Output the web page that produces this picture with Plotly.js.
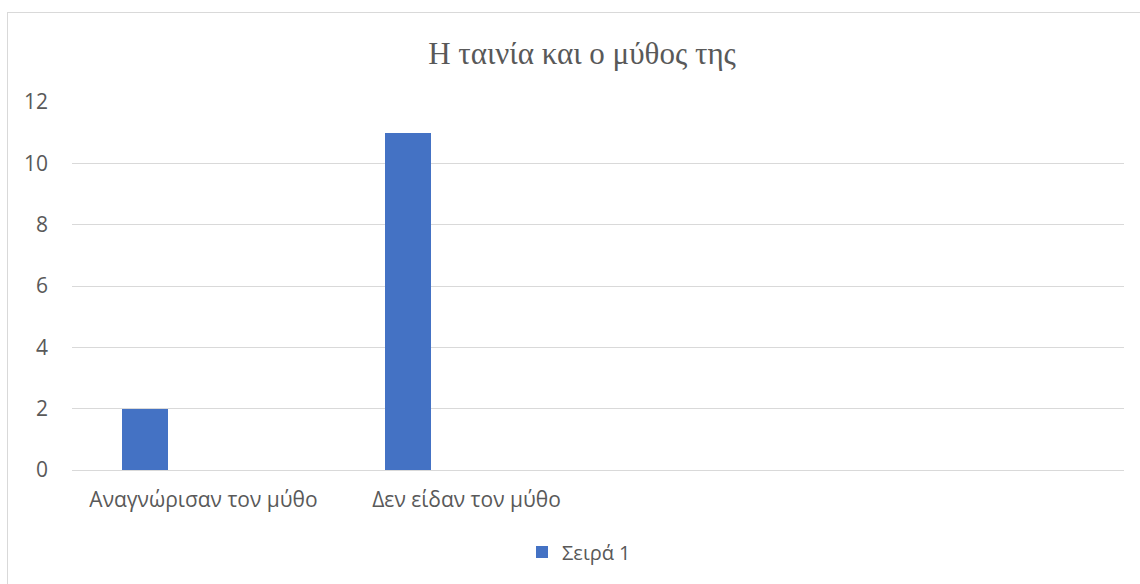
<!DOCTYPE html>
<html>
<head>
<meta charset="utf-8">
<script src="https://cdn.plot.ly/plotly-3.0.1.min.js"></script>
<style>
  html, body { margin: 0; padding: 0; background: #ffffff; overflow: hidden; }
  #frame { position: absolute; left: 7px; top: 12px; width: 1300px; height: 800px; border: 1px solid #d9d9d9; box-sizing: border-box; }
  #chart { position: absolute; left: 0; top: 0; width: 1140px; height: 584px; }
</style>
</head>
<body>
<div id="frame"></div>
<div id="chart"></div>
<script>
const categories = ["Αναγνώρισαν τον μύθο", "Δεν είδαν τον μύθο"];
const series1Values = [2, 11];
const seriesName = "Σειρά 1";
const chartTitle = "Η ταινία και ο μύθος της";
const yTickVals = [0, 2, 4, 6, 8, 10, 12];

const trace = {
  type: "bar",
  x: categories,
  y: series1Values,
  name: seriesName,
  marker: { color: "#4472c4" },
  offset: -0.31,
  width: 0.175,
  showlegend: true,
  hoverinfo: "x+y"
};

const layout = {
  width: 1140,
  height: 584,
  margin: { l: 72, r: 16, t: 102, b: 114 },
  paper_bgcolor: "rgba(0,0,0,0)",
  plot_bgcolor: "rgba(0,0,0,0)",
  font: { family: "'Open Sans', 'Liberation Sans', sans-serif", size: 20, color: "#595959" },
  title: {
    text: chartTitle,
    font: { family: "'Liberation Serif', 'DejaVu Serif', serif", size: 31, color: "#595959" },
    x: 582 / 1140, xanchor: "center", xref: "container",
    y: 1 - 53 / 584, yanchor: "middle", yref: "container"
  },
  xaxis: {
    type: "category",
    categoryorder: "array",
    categoryarray: categories,
    range: [-0.5, 3.5],
    showgrid: false,
    showline: false,
    zeroline: false,
    ticks: "",
    ticklabelstandoff: 15,
    tickfont: { size: 21, color: "#595959" }
  },
  yaxis: {
    range: [0, 12],
    tickvals: yTickVals,
    showgrid: true,
    gridcolor: "#d9d9d9",
    gridwidth: 1,
    zeroline: true,
    zerolinecolor: "#d9d9d9",
    zerolinewidth: 1,
    showline: false,
    ticks: "",
    ticklabelstandoff: 23,
    tickfont: { size: 21, color: "#595959" }
  },
  showlegend: true,
  legend: {
    orientation: "h",
    x: (522 - 72) / 1052, xanchor: "left",
    y: (470 - 552) / 368, yanchor: "middle",
    font: { size: 20, color: "#595959" },
    itemwidth: 30,
    bgcolor: "rgba(0,0,0,0)"
  },
  bargap: 0
};

Plotly.newPlot("chart", [trace], layout, { displayModeBar: false, staticPlot: true });
</script>
</body>
</html>
